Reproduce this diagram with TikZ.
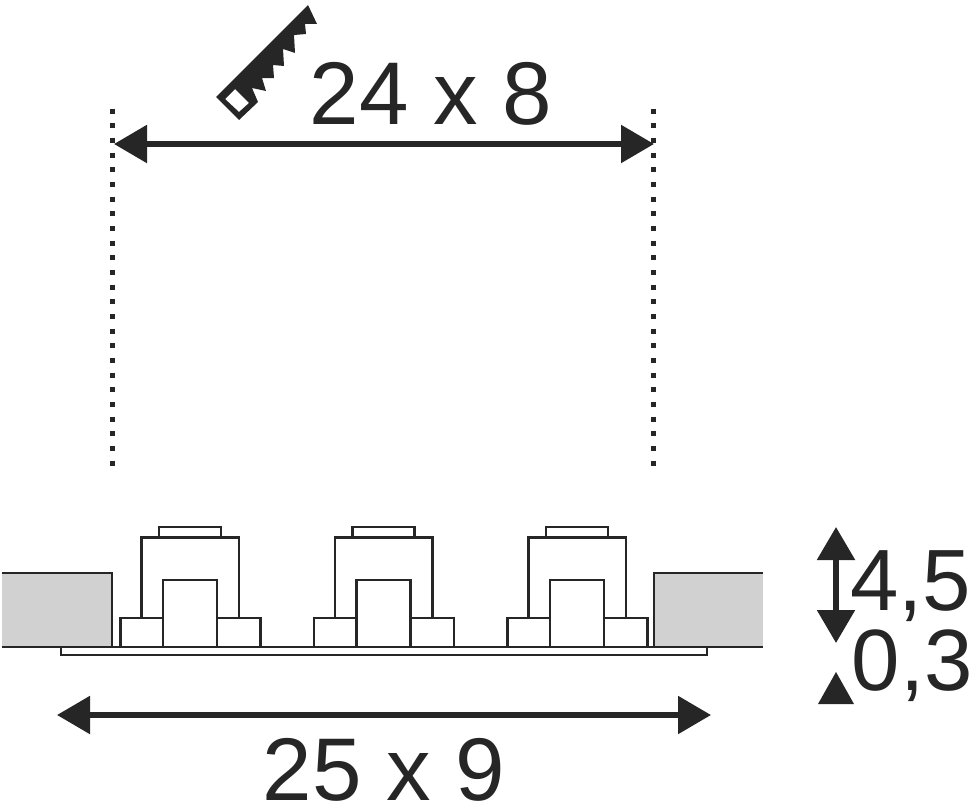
\documentclass[tikz,border=0pt]{standalone}
\usepackage{fontspec}
\setmainfont{Liberation Sans}
\usetikzlibrary{arrows.meta}
\begin{document}
\begin{tikzpicture}[x=1pt, y=-1pt, every node/.style={align=center}]
  % Define colors
  \colorlet{inkcolor}{black!85}
  \colorlet{wallcolor}{black!18}

  % Define styles
  \tikzset{
    outline/.style={draw=inkcolor, line width=2.4pt, fill=white},
    wall/.style={fill=wallcolor},
    wallline/.style={draw=inkcolor, line width=2.4pt},
    sizearrow/.style={draw=inkcolor, line width=5.5pt, {Triangle[length=33pt, width=37pt]}-{Triangle[length=33pt, width=37pt]}},
    guide/.style={draw=inkcolor, line width=5pt, dash pattern=on 5pt off 9.67pt},
    sizetext/.style={font=\fontsize{89}{89}\selectfont, text=inkcolor, inner sep=0pt, anchor=base},
    sidetext/.style={font=\fontsize{87}{87}\selectfont, text=inkcolor, inner sep=0pt, anchor=base west}
  }

  \useasboundingbox (0,0) rectangle (973,808);

  % Walls on both sides
  \fill[wall] (2,573) rectangle (112,647);
  \draw[wallline] (2,573) -- (112,573) -- (112,647);
  \fill[wall] (654,573) rectangle (763,647);
  \draw[wallline] (763,573) -- (654,573) -- (654,647);

  % Cover plate
  \draw[outline] (61,647) rectangle (707,655);
  \draw[wallline] (2,647) -- (763,647);

  % Three lamp modules
  \foreach \dx in {0,193.5,387} {
    \draw[outline] (159+\dx,527) rectangle (221+\dx,537.5);
    \draw[outline] (141.5+\dx,618) rectangle (239+\dx,537.5);
    \draw[outline] (120.5+\dx,647) rectangle (163+\dx,618);
    \draw[outline] (217+\dx,647) rectangle (260.5+\dx,618);
    \draw[outline] (163+\dx,647) rectangle (217+\dx,580);
  }

  % Saw symbol
  \fill[inkcolor, even odd rule] (216,97) -- (308,5) -- (317,24) -- (305,24) -- (306,34)
    -- (294,35) -- (295,53) -- (283,49) -- (284,66) -- (273,65) -- (274,78)
    -- (262,78) -- (266,91) -- (252,88) -- (258,102) -- (239,120) -- cycle
    (225,99) -- (235,89) -- (249,103) -- (239,112) -- cycle;

  % Guide lines
  \coordinate (guideLtop) at (112,108.5);
  \coordinate (guideLbot) at (112,467);
  \coordinate (guideRtop) at (653,108.5);
  \coordinate (guideRbot) at (653,467);
  \draw[guide] (guideLtop) -- (guideLbot);
  \draw[guide] (guideRtop) -- (guideRbot);

  % Cutout dimension
  \coordinate (cutL) at (114,144);
  \coordinate (cutR) at (654,144);
  \draw[sizearrow] (cutL) -- (cutR);
  \node[sizetext] (cutsize) at (431,124) {24 x 8};

  % Outer dimension
  \coordinate (outerL) at (57,715);
  \coordinate (outerR) at (711,715);
  \draw[sizearrow] (outerL) -- (outerR);
  \node[sizetext] (outersize) at (384,800) {25 x 9};

  % Depth dimensions
  \coordinate (depthT) at (836,527);
  \coordinate (depthB) at (836,643);
  \draw[sizearrow] (depthT) -- (depthB);
  \node[sidetext] (depthsize) at (850,610) {4,5};
  \node[sidetext] (platesize) at (851.5,690) {0,3};
  \fill[inkcolor] (836,672) -- (854,704) -- (818,704) -- cycle;
\end{tikzpicture}
\end{document}
